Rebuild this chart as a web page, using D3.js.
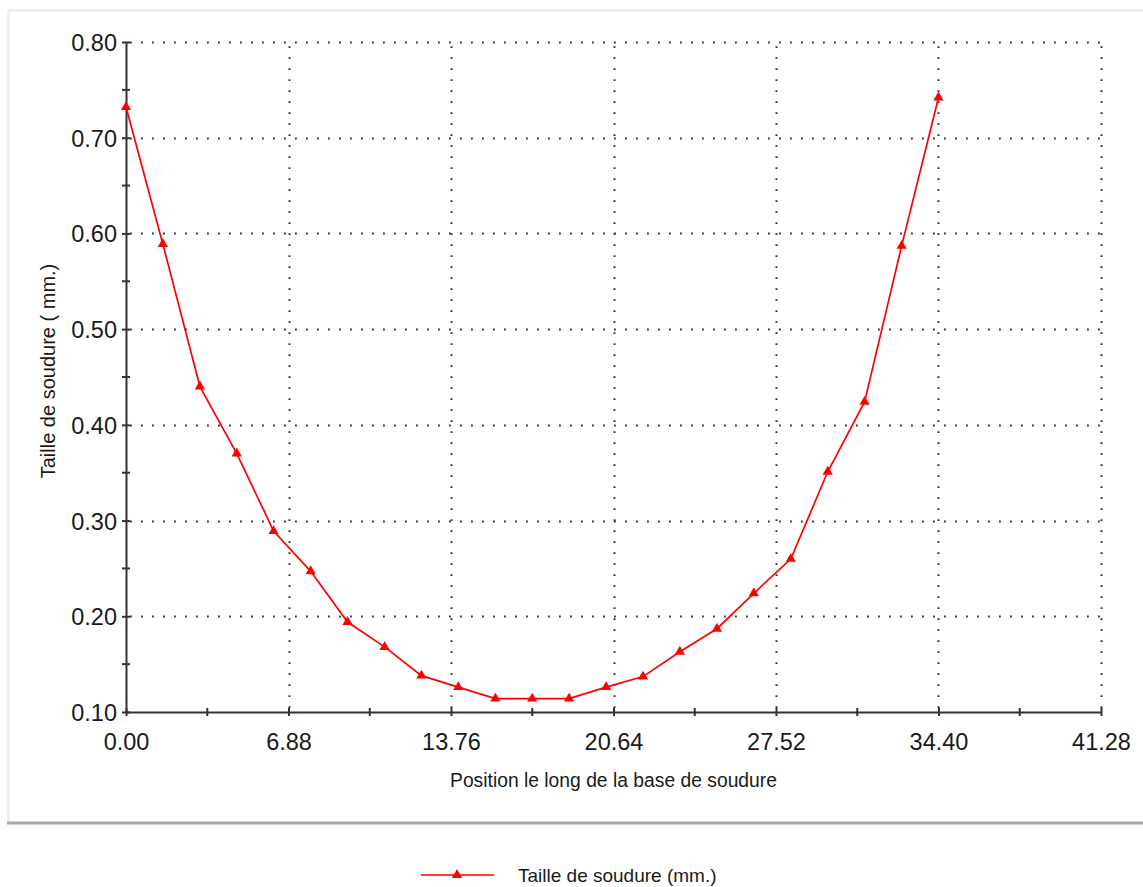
<!DOCTYPE html>
<html>
<head>
<meta charset="utf-8">
<script src="https://cdn.jsdelivr.net/npm/d3@7/dist/d3.min.js"></script>
<style>
  html, body { margin: 0; padding: 0; background: #fff; }
  svg { display: block; font-family: "Liberation Sans", Arial, sans-serif; }
</style>
</head>
<body>
<svg id="chart" width="1143" height="887"></svg>
<script>
// ---- data ----
const positions = [0.00, 1.56, 3.13, 4.69, 6.25, 7.82, 9.38, 10.95, 12.51, 14.07, 15.64, 17.20,
                   18.76, 20.33, 21.89, 23.45, 25.02, 26.58, 28.15, 29.71, 31.27, 32.84, 34.40];
const weldSize = [0.732, 0.589, 0.440, 0.370, 0.289, 0.247, 0.194, 0.168, 0.138, 0.126, 0.114, 0.114,
                  0.114, 0.126, 0.137, 0.163, 0.187, 0.224, 0.260, 0.351, 0.424, 0.587, 0.742];
const xTicks = [0.00, 6.88, 13.76, 20.64, 27.52, 34.40, 41.28];
const yTicks = [0.10, 0.20, 0.30, 0.40, 0.50, 0.60, 0.70, 0.80];
const xMinorTicks = [3.44, 10.32, 17.20, 24.08, 30.96, 37.84];
const yMinorTicks = [0.15, 0.25, 0.35, 0.45, 0.55, 0.65, 0.75];
const seriesName = "Taille de soudure (mm.)";
const xTitle = "Position le long de la base de soudure";
const yTitle = "Taille de soudure ( mm.)";

const svg = d3.select("#chart");
const textColor = "#1a1a1a";

// panel frame
svg.append("rect").attr("x", 8).attr("y", 10).attr("width", 1140).attr("height", 812).attr("fill", "#fff");
svg.append("line").attr("x1", 8).attr("x2", 1143).attr("y1", 10.5).attr("y2", 10.5).attr("stroke", "#efefef").attr("stroke-width", 3);
svg.append("line").attr("x1", 8.5).attr("x2", 8.5).attr("y1", 10).attr("y2", 823).attr("stroke", "#efefef").attr("stroke-width", 3);
svg.append("line").attr("x1", 7).attr("x2", 1143).attr("y1", 823).attr("y2", 823).attr("stroke", "#a9a9a9").attr("stroke-width", 3);

const x = d3.scaleLinear().domain([0, 41.28]).range([126, 1101]);
const y = d3.scaleLinear().domain([0.10, 0.80]).range([712, 42]);

// grid
const grid = svg.append("g").attr("stroke", "#333").attr("stroke-width", 2).attr("stroke-dasharray", "1.8,9.2");
grid.selectAll(".hg").data(yTicks.slice(1)).join("line")
  .attr("x1", x(0) + 4).attr("x2", x(41.28))
  .attr("y1", d => Math.round(y(d)) + 0.5).attr("y2", d => Math.round(y(d)) + 0.5);
grid.selectAll(".vg").data(xTicks.slice(1)).join("line")
  .attr("y1", y(0.10) - 4).attr("y2", y(0.80))
  .attr("x1", d => Math.round(x(d)) + 0.5).attr("x2", d => Math.round(x(d)) + 0.5);

// axes
const xAxisG = svg.append("g").attr("transform", `translate(0,${y(0.10)})`);
xAxisG.call(d3.axisBottom(x).tickValues(xTicks).tickFormat(d3.format(".2f")).tickSize(4).tickSizeOuter(0));
xAxisG.append("g").selectAll("line").data(xMinorTicks).join("line")
  .attr("x1", d => x(d)).attr("x2", d => x(d)).attr("y1", -4).attr("y2", 4);
xAxisG.selectAll(".tick line").attr("y1", -4).attr("y2", 4);

const yAxisG = svg.append("g").attr("transform", `translate(${x(0)},0)`);
yAxisG.call(d3.axisLeft(y).tickValues(yTicks).tickFormat(d3.format(".2f")).tickSize(4).tickSizeOuter(0));
yAxisG.append("g").selectAll("line").data(yMinorTicks).join("line")
  .attr("y1", d => y(d)).attr("y2", d => y(d)).attr("x1", -4).attr("x2", 4);
yAxisG.selectAll(".tick line").attr("x1", -4).attr("x2", 4);

[xAxisG, yAxisG].forEach(g => {
  g.select(".domain").attr("stroke", "#333").attr("stroke-width", 2);
  g.selectAll("line").attr("stroke", "#333").attr("stroke-width", 2);
  g.selectAll("text").attr("fill", textColor).attr("font-size", 23.5).attr("font-family", "Liberation Sans, Arial, sans-serif");
});
xAxisG.selectAll(".tick text").attr("y", 21).attr("dy", "0.71em");
yAxisG.selectAll(".tick text").attr("x", -9).attr("dy", "0.36em");

// axis titles
svg.append("text").attr("x", (x(0) + x(41.28)) / 2).attr("y", 787)
  .attr("text-anchor", "middle").attr("font-size", 19.3).attr("fill", textColor).text(xTitle);
svg.append("text").attr("transform", `translate(55,${(y(0.1) + y(0.8)) / 2 - 6}) rotate(-90)`)
  .attr("text-anchor", "middle").attr("font-size", 20).attr("fill", textColor).text(yTitle);

// line series
const red = "#ff0000";
const line = d3.line().x((d, i) => x(positions[i])).y(d => y(d));
svg.append("path").datum(weldSize).attr("d", line)
  .attr("fill", "none").attr("stroke", red).attr("stroke-width", 1.7);
const tri = d3.symbol().type(d3.symbolTriangle).size(46);
svg.append("g").selectAll("path").data(weldSize).join("path")
  .attr("transform", (d, i) => `translate(${x(positions[i])},${y(d)})`)
  .attr("d", tri).attr("fill", red);

// legend
const lg = svg.append("g");
lg.append("line").attr("x1", 421).attr("x2", 494).attr("y1", 875).attr("y2", 875)
  .attr("stroke", red).attr("stroke-width", 1.7);
lg.append("path").attr("transform", "translate(457,875)").attr("d", tri).attr("fill", red);
lg.append("text").attr("x", 518).attr("y", 882).attr("font-size", 19).attr("fill", textColor).text(seriesName);
</script>
</body>
</html>
